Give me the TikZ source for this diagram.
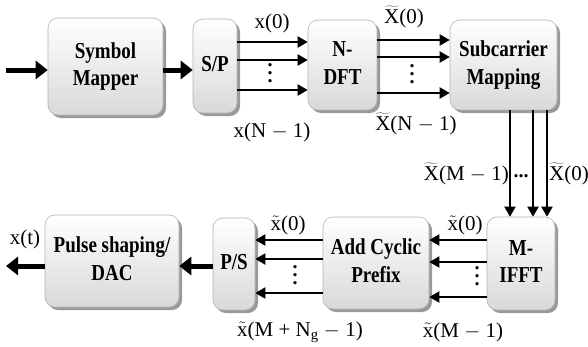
\documentclass[tikz,border=0pt]{standalone}
\usepackage{fontspec}
\usepackage{graphicx}
\setmainfont{Liberation Serif}
\usetikzlibrary{arrows.meta, positioning, shadows}

% tall box text and big vertical dots
\newcommand{\boxtext}[1]{\scalebox{1}[1.2]{\begin{tabular}{@{}c@{}}#1\end{tabular}}}
\newcommand{\bigvdots}{\vbox{\baselineskip8pt\lineskiplimit0pt\hbox{.}\hbox{.}\hbox{.}}}

\begin{document}
\begin{tikzpicture}[
  x=1pt, y=-1pt,
  box/.style={rectangle, draw=gray!60, line width=0.6pt, rounded corners=10pt,
              align=center, inner sep=0pt, top color=white, bottom color=gray!30,
              font=\fontsize{19}{23}\selectfont\bfseries,
              drop shadow={shadow xshift=3pt, shadow yshift=-3pt, fill=gray!80, opacity=1}},
  arr/.style={-{Triangle[length=10pt, width=11pt]}, line width=2pt},
  bigarr/.style={-{Triangle[length=12pt, width=18pt]}, line width=5pt},
  lbl/.style={font=\fontsize{21}{23}\selectfont, inner sep=1pt},
  dots/.style={font=\fontsize{20}{20}\selectfont\bfseries, inner sep=0pt}
]
\useasboundingbox (0,0) rectangle (588,346);

% --- Nodes ---
\node[box, minimum width=115pt, minimum height=97pt] (sm)   at (105.5,66.5) {\boxtext{Symbol\\Mapper}};
\node[box, minimum width=44pt,  minimum height=94pt] (sp)   at (215,66)     {\boxtext{S/P}};
\node[box, minimum width=69pt,  minimum height=90pt] (dft)  at (342.5,65)   {\boxtext{N-\\DFT}};
\node[box, minimum width=107pt, minimum height=90pt] (scm)  at (503.5,65)   {\boxtext{Subcarrier\\Mapping}};
\node[box, minimum width=68pt,  minimum height=93pt] (ifft) at (521,263.5)  {\boxtext{M-\\IFFT}};
\node[box, minimum width=106pt, minimum height=92pt] (acp)  at (376,263)    {\boxtext{Add Cyclic\\Prefix}};
\node[box, minimum width=42pt,  minimum height=92pt] (ps)   at (234,264)    {\boxtext{P/S}};
\node[box, minimum width=134pt, minimum height=92pt] (dac)  at (112,261)    {\boxtext{Pulse shaping/\\DAC}};

\coordinate (in)  at (6,70);
\coordinate (out) at (6,266);

% input and symbol mapper
\draw[bigarr] (in) -- (sm.west |- in);
\draw[bigarr] (sm.east |- in) -- (sp.west |- in);

% S/P -> N-DFT
\foreach \y in {42,60,90}
  \draw[arr] (sp.east |- 0,\y) -- (dft.west |- 0,\y);
\node[lbl] (xa) at (272,23)  {x(0)};
\node[dots] (da) at (270,73) {\bigvdots};
\node[lbl] (xb) at (272,132) {x(N $-$ 1)};

% N-DFT -> subcarrier mapping
\foreach \y in {40,57,93}
  \draw[arr] (dft.east |- 0,\y) -- (scm.west |- 0,\y);
\node[lbl] (ya) at (404,17)  {$\widetilde{\mathrm{X}}$(0)};
\node[dots] (db) at (412,74) {\bigvdots};
\node[lbl] (yb) at (416,124) {$\widetilde{\mathrm{X}}$(N $-$ 1)};

% subcarrier mapping -> M-IFFT
\foreach \x in {510,533,547}
  \draw[arr] (\x,0 |- scm.south) -- (\x,0 |- ifft.north);
\node[lbl, anchor=east] (za) at (510,174) {$\widetilde{\mathrm{X}}$(M $-$ 1)};
\node[dots, anchor=base] (dc) at (521,177) {...};
\node[lbl, anchor=west] (zb) at (548,174) {$\widetilde{\mathrm{X}}$(0)};

% M-IFFT -> add cyclic prefix
\foreach \y in {240,262,297}
  \draw[arr] (ifft.west |- 0,\y) -- (acp.east |- 0,\y);
\node[lbl] (ua) at (465,225) {$\tilde{\mathrm{x}}$(0)};
\node[dots] (dd) at (477,276) {\bigvdots};
\node[lbl] (ub) at (463,332) {$\tilde{\mathrm{x}}$(M $-$ 1)};

% add cyclic prefix -> P/S
\foreach \y in {240,259,293}
  \draw[arr] (acp.west |- 0,\y) -- (ps.east |- 0,\y);
\node[lbl] (va) at (288,225) {$\tilde{\mathrm{x}}$(0)};
\node[dots] (de) at (295,275) {\bigvdots};
\node[lbl] (vb) at (300,332) {$\tilde{\mathrm{x}}$(M + N$_\mathrm{g}$ $-$ 1)};

% P/S -> pulse shaping -> output
\draw[bigarr] (ps.west |- out) -- (dac.east |- out);
\draw[bigarr] (dac.west |- out) -- (out);
\node[lbl] (xt) at (25,239) {x(t)};

\end{tikzpicture}
\end{document}
